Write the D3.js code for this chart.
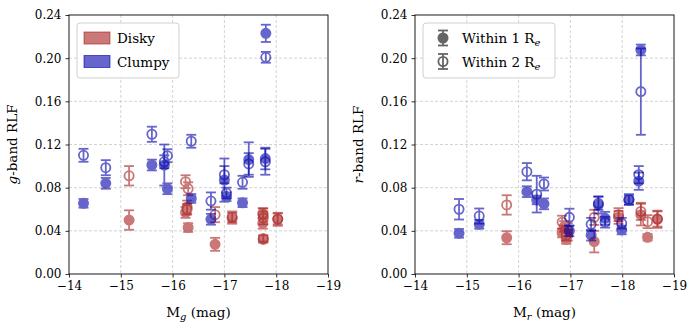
<!DOCTYPE html>
<html>
<head>
<meta charset="utf-8">
<script src="https://cdn.jsdelivr.net/npm/d3@7"></script>
<style>
  body { margin: 0; background: #fff; }
  svg text { font-family: "DejaVu Serif", serif !important; fill: #000; }
</style>
</head>
<body>
<svg id="chart" width="698" height="332"></svg>
<script>
// g-band, clumpy galaxies
var gClumpyMag  = [-14.28, -14.71, -15.60, -15.84, -15.90, -16.36, -16.74, -17.00, -17.04, -17.35, -17.47, -17.79, -17.80];
var gClumpy1    = [0.0655, 0.084, 0.101, 0.101, 0.079, 0.070, 0.0507, 0.087, 0.0716, 0.066, 0.106, 0.107, 0.223];
var gClumpy1Err = [0.004, 0.005, 0.005, 0.019, 0.005, 0.004, 0.005, 0.020, 0.004, 0.004, 0.016, 0.010, 0.008];
var gClumpy2    = [0.110, 0.0985, 0.1295, 0.104, 0.1096, 0.123, 0.0676, 0.092, 0.075, 0.085, 0.102, 0.104, 0.2008];
var gClumpy2Err = [0.006, 0.007, 0.007, 0.006, 0.006, 0.006, 0.008, 0.008, 0.005, 0.006, 0.010, 0.012, 0.005];

// g-band, disky galaxies
var gDiskyMag  = [-15.16, -16.25, -16.30, -16.28, -16.82, -17.15, -17.75, -17.74, -17.75, -18.03];
var gDisky1    = [0.050, 0.057, 0.043, 0.062, 0.0275, 0.0516, 0.0547, 0.047, 0.032, 0.0507];
var gDisky1Err = [0.009, 0.005, 0.004, 0.006, 0.006, 0.005, 0.006, 0.005, 0.003, 0.006];
var gDisky2    = [0.091, 0.0855, 0.079, 0.060, 0.055, 0.053, 0.052, 0.056, 0.033, 0.051];
var gDisky2Err = [0.009, 0.006, 0.006, 0.005, 0.007, 0.005, 0.006, 0.005, 0.003, 0.005];

// r-band, clumpy galaxies
var rClumpyMag  = [-14.85, -15.24, -16.16, -16.35, -16.49, -16.98, -17.40, -17.54, -17.67, -17.99, -18.13, -18.32, -18.36];
var rClumpy1    = [0.0377, 0.046, 0.0763, 0.0686, 0.065, 0.040, 0.036, 0.064, 0.0516, 0.0408, 0.0686, 0.086, 0.2076];
var rClumpy1Err = [0.004, 0.004, 0.005, 0.004, 0.005, 0.005, 0.005, 0.008, 0.006, 0.004, 0.004, 0.008, 0.005];
var rClumpy2    = [0.060, 0.0537, 0.0948, 0.074, 0.0834, 0.0525, 0.046, 0.0655, 0.048, 0.047, 0.069, 0.092, 0.169];
var rClumpy2Err = [0.0095, 0.007, 0.008, 0.017, 0.006, 0.008, 0.006, 0.006, 0.005, 0.005, 0.005, 0.008, 0.040];

// r-band, disky galaxies
var rDiskyMag  = [-15.77, -16.84, -16.88, -16.92, -16.95, -17.46, -17.93, -18.36, -18.49, -18.68];
var rDisky1    = [0.0336, 0.038, 0.040, 0.032, 0.036, 0.030, 0.0525, 0.055, 0.034, 0.0507];
var rDisky1Err = [0.006, 0.004, 0.005, 0.004, 0.005, 0.010, 0.006, 0.010, 0.003, 0.008];
var rDisky2    = [0.064, 0.048, 0.044, 0.036, 0.041, 0.0525, 0.055, 0.058, 0.0485, 0.051];
var rDisky2Err = [0.009, 0.006, 0.005, 0.005, 0.006, 0.007, 0.006, 0.008, 0.006, 0.007];

var xTicks = [-14, -15, -16, -17, -18, -19];
var yTicks = [0, 0.04, 0.08, 0.12, 0.16, 0.2, 0.24];

var red = "#a81e1e", blue = "#0000aa";
var FONT = '"DejaVu Serif", serif';

var svg = d3.select("#chart");

// zip arrays into point records
var pts = function (mag, v, e) {
  return mag.map(function (m, i) { return {x: m, y: v[i], e: e[i]}; });
};

var panel = function (left, band, sets) {
  var top = 15, w = 259, h = 259;
  var g = svg.append("g").attr("transform", "translate(" + left + "," + top + ")");

  var x = d3.scaleLinear().domain([-14, -19]).range([0, w]);
  var y = d3.scaleLinear().domain([0, 0.24]).range([h, 0]);

  // grid
  g.append("g").selectAll("line").data(xTicks.slice(1, -1)).enter().append("line")
    .attr("x1", d => x(d)).attr("x2", d => x(d)).attr("y1", 0).attr("y2", h)
    .attr("stroke", "#c8c8c8").attr("stroke-width", 0.8).attr("stroke-dasharray", "3,2");
  g.append("g").selectAll("line").data(yTicks.slice(1, -1)).enter().append("line")
    .attr("x1", 0).attr("x2", w).attr("y1", d => y(d)).attr("y2", d => y(d))
    .attr("stroke", "#c8c8c8").attr("stroke-width", 0.8).attr("stroke-dasharray", "3,2");

  // axes
  var xa = g.append("g").attr("transform", "translate(0," + h + ")")
    .call(d3.axisBottom(x).tickValues(xTicks).tickSize(3.5).tickPadding(4)
      .tickFormat(d => "\u2212" + Math.abs(d)));
  var ya = g.append("g")
    .call(d3.axisLeft(y).tickValues(yTicks).tickSize(3.5).tickPadding(4)
      .tickFormat(d3.format(".2f")));
  [xa, ya].forEach(function (a) {
    a.attr("font-family", FONT).attr("font-size", 12);
    a.select(".domain").remove();
    a.selectAll("line").attr("stroke", "#000").attr("stroke-width", 0.8);
  });

  // data
  sets.forEach(function (s) {
    var grp = g.append("g").attr("opacity", 0.6);
    var d = s.data;
    grp.selectAll(".bar").data(d).enter().append("line")
      .attr("x1", p => x(p.x)).attr("x2", p => x(p.x))
      .attr("y1", p => y(p.y - p.e)).attr("y2", p => y(p.y + p.e))
      .attr("stroke", s.color).attr("stroke-width", 1.8);
    [-1, 1].forEach(function (sg) {
      grp.selectAll(".cap" + sg).data(d).enter().append("line")
        .attr("x1", p => x(p.x) - 5).attr("x2", p => x(p.x) + 5)
        .attr("y1", p => y(p.y + sg * p.e)).attr("y2", p => y(p.y + sg * p.e))
        .attr("stroke", s.color).attr("stroke-width", 1.8);
    });
    grp.selectAll("circle").data(d).enter().append("circle")
      .attr("cx", p => x(p.x)).attr("cy", p => y(p.y)).attr("r", 4.6)
      .attr("fill", s.open ? "none" : s.color)
      .attr("stroke", s.color).attr("stroke-width", 1.8);
  });

  // frame
  g.append("rect").attr("width", w).attr("height", h)
    .attr("fill", "none").attr("stroke", "#000").attr("stroke-width", 0.9);

  // labels
  var xl = svg.append("text").attr("x", left + w / 2).attr("y", 317)
    .attr("text-anchor", "middle").style("font-size", "13.5px");
  xl.append("tspan").text("M");
  xl.append("tspan").attr("dy", 3).style("font-size", "10px").style("font-style", "italic").text(band);
  xl.append("tspan").attr("dy", -3).text(" (mag)");

  var yl = svg.append("text")
    .attr("transform", "translate(" + (left - 52) + "," + (top + h / 2) + ") rotate(-90)")
    .attr("text-anchor", "middle").style("font-size", "13.5px");
  yl.append("tspan").style("font-style", "italic").text(band);
  yl.append("tspan").text("-band RLF");

  return g;
};

var gl = panel(69, "g", [
  {data: pts(gDiskyMag, gDisky2, gDisky2Err), color: red, open: true},
  {data: pts(gDiskyMag, gDisky1, gDisky1Err), color: red, open: false},
  {data: pts(gClumpyMag, gClumpy2, gClumpy2Err), color: blue, open: true},
  {data: pts(gClumpyMag, gClumpy1, gClumpy1Err), color: blue, open: false}
]);

var gr = panel(415, "r", [
  {data: pts(rDiskyMag, rDisky2, rDisky2Err), color: red, open: true},
  {data: pts(rDiskyMag, rDisky1, rDisky1Err), color: red, open: false},
  {data: pts(rClumpyMag, rClumpy2, rClumpy2Err), color: blue, open: true},
  {data: pts(rClumpyMag, rClumpy1, rClumpy1Err), color: blue, open: false}
]);

// legend left
var lg = gl.append("g").attr("transform", "translate(8,8)");
lg.append("rect").attr("width", 102).attr("height", 55).attr("rx", 3)
  .attr("fill", "#fff").attr("fill-opacity", 0.85).attr("stroke", "#d0d0d0");
[["Disky", red], ["Clumpy", blue]].forEach(function (d, i) {
  lg.append("rect").attr("x", 7).attr("y", 9 + i * 23.5).attr("width", 26).attr("height", 12)
    .attr("fill", d[1]).attr("fill-opacity", 0.6).attr("stroke", d[1]).attr("stroke-opacity", 0.6);
  lg.append("text").attr("x", 40).attr("y", 20 + i * 23.5).style("font-size", "13.5px").text(d[0]);
});

// legend right
var lr = gr.append("g").attr("transform", "translate(8,8)");
lr.append("rect").attr("width", 132).attr("height", 55).attr("rx", 3)
  .attr("fill", "#fff").attr("fill-opacity", 0.85).attr("stroke", "#d0d0d0");
["1", "2"].forEach(function (n, i) {
  var cy = 15 + i * 23.5;
  var m = lr.append("g").attr("opacity", 0.6);
  m.append("line").attr("x1", 20).attr("x2", 20).attr("y1", cy - 7.5).attr("y2", cy + 7.5)
    .attr("stroke", "#000").attr("stroke-width", 1.8);
  [-7.5, 7.5].forEach(function (o) {
    m.append("line").attr("x1", 15).attr("x2", 25).attr("y1", cy + o).attr("y2", cy + o)
      .attr("stroke", "#000").attr("stroke-width", 1.8);
  });
  m.append("circle").attr("cx", 20).attr("cy", cy).attr("r", 4.6)
    .attr("fill", i === 0 ? "#000" : "none").attr("stroke", "#000").attr("stroke-width", 1.8);
  var t = lr.append("text").attr("x", 39).attr("y", cy + 5).style("font-size", "13.5px");
  t.append("tspan").text("Within " + n + " R");
  t.append("tspan").attr("dy", 3).style("font-size", "10px").style("font-style", "italic").text("e");
});
</script>
</body>
</html>
